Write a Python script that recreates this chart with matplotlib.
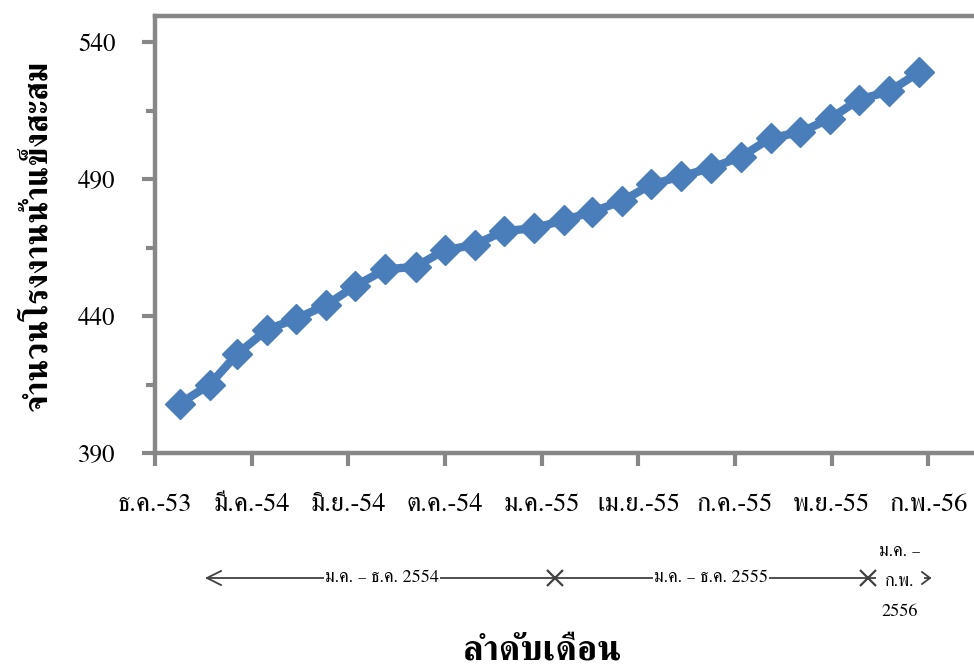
import numpy as np
import matplotlib
matplotlib.use("Agg")
import matplotlib.pyplot as plt
import matplotlib.dates as mdates
from matplotlib.lines import Line2D

plt.rcParams['font.family'] = ['FreeSerif', 'Liberation Serif', 'DejaVu Serif']

# monthly data, ม.ค. 2554 - ก.พ. 2556
months = np.arange('2011-01', '2013-03', dtype='datetime64[M]')
factories = [408, 415, 426, 435, 439, 444, 451, 457, 458, 464, 466, 471, 472,
             475, 478, 482, 488, 491, 494, 498, 505, 507, 512, 519, 522, 529]

tick_labels = ['ธ.ค.-53', 'มี.ค.-54', 'มิ.ย.-54', 'ต.ค.-54', 'ม.ค.-55',
               'เม.ย.-55', 'ก.ค.-55', 'พ.ย.-55', 'ก.พ.-56']
ylabel = 'จำนวนโรงงานน้ำแข็งสะสม'
xlabel = 'ลำดับเดือน'
period_labels = ['ม.ค. – ธ.ค. 2554', 'ม.ค. – ธ.ค. 2555', 'ม.ค. –\nก.พ.\n2556']

W, H = 974, 668
fig = plt.figure(figsize=(W/100, H/100), dpi=100)
ax = fig.add_axes([155/W, 215/H, (995-155)/W, 437/H])

x = mdates.date2num(months.astype('datetime64[D]'))
ax.plot(x, factories, color='#4a7ebb', lw=6, marker='D', ms=15,
        mfc='#4a7ebb', mec='#4a7ebb', mew=1, solid_joinstyle='round')

# date axis: ticks every ~99.6 days starting at 7 ธ.ค. 2553
pxday = 0.9706
x0 = x[0] - 25.4
ticks = x0 + 99.6*np.arange(len(tick_labels))
ax.set_xlim(x0, x0 + (995-155)/pxday)
ax.set_xticks(ticks)
ax.set_xticklabels(tick_labels)
ax.set_ylim(390, 390 + 437/2.74)
ax.set_yticks([390, 440, 490, 540])
ax.set_yticks([415, 465, 515], minor=True)

gray = '#878787'
for s in ax.spines.values():
    s.set_color(gray)
    s.set_linewidth(3.2)
ax.tick_params(axis='both', which='major', length=9.5, width=3, color=gray,
               labelsize=18, direction='out')
ax.tick_params(axis='y', which='major', pad=19)
ax.tick_params(axis='x', which='major', pad=19, labelsize=19)
ax.tick_params(axis='y', which='minor', length=6.5, width=3, color=gray)
ax.tick_params(axis='x', which='minor', bottom=False)

fig.text(38/W, 1 - 235/H, ylabel, rotation=90, ha='center', va='center',
         fontsize=23.5, fontweight='bold')
fig.text(542/W, 1 - 651/H, xlabel, ha='center', va='center',
         fontsize=26, fontweight='bold')

# period bracket under the axis
def px(xp, yp):
    return xp/W, 1 - yp/H

lc = '#404040'
yp = 578
fig.add_artist(Line2D([207/W, 930/W], [1 - yp/H]*2, color=lc, lw=1.3,
                      transform=fig.transFigure, zorder=1))
for pts in ([(221, yp - 7), (207, yp), (221, yp + 7)],
            [(922, yp - 6), (930, yp), (922, yp + 6)]):
    xs, ys = zip(*[px(a, b) for a, b in pts])
    fig.add_artist(Line2D(xs, ys, color=lc, lw=1.3, transform=fig.transFigure, zorder=4))
for xc in [555, 868]:
    fig.add_artist(Line2D([xc/W], [1 - yp/H], marker='x', ms=11, mew=1.6, color=lc,
                          transform=fig.transFigure, zorder=4))
box = dict(facecolor='white', edgecolor='none', pad=1)
fig.text(382/W, 1 - yp/H, period_labels[0], ha='center', va='center', fontsize=13,
         bbox=box, zorder=3)
fig.text(711/W, 1 - yp/H, period_labels[1], ha='center', va='center', fontsize=13,
         bbox=box, zorder=3)
fig.text(900/W, 1 - 582/H, period_labels[2], ha='center', va='center', fontsize=13,
         linespacing=2.15, bbox=dict(facecolor='white', edgecolor='none', pad=2), zorder=3)

fig.savefig('out.png', dpi=100)
